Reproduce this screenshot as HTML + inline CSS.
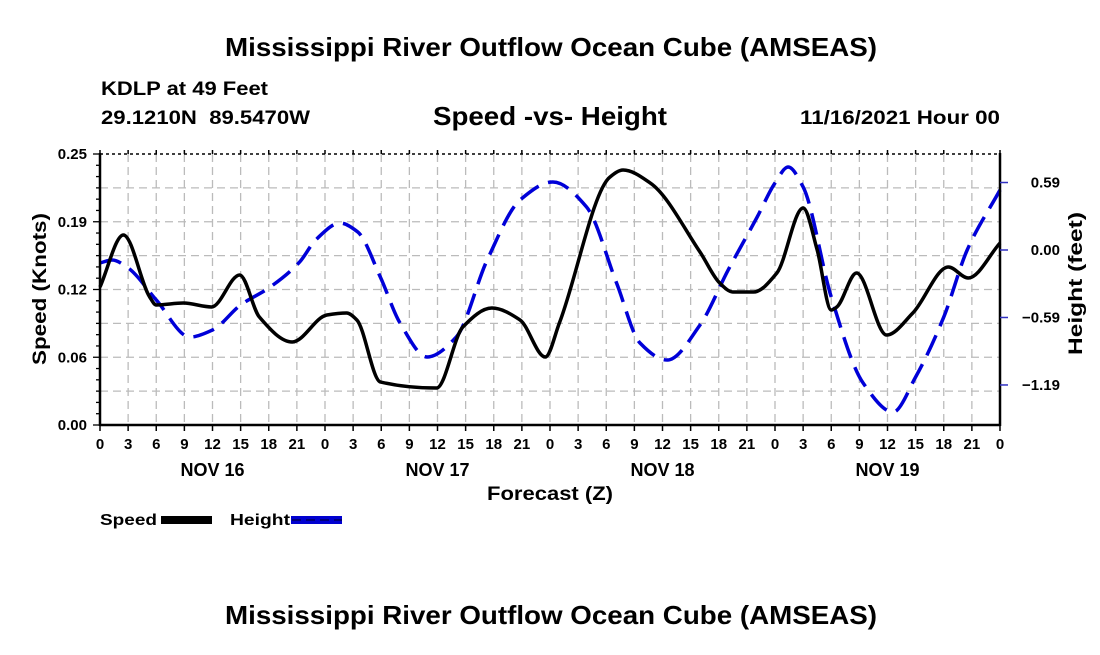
<!DOCTYPE html>
<html><head><meta charset="utf-8"><style>
body{margin:0;background:#fff;}
svg text{font-family:"Liberation Sans",Arial,sans-serif;font-weight:bold;fill:#000;}
</style></head><body>
<svg id="chart" width="1100" height="650" viewBox="0 0 1100 650" xmlns="http://www.w3.org/2000/svg">
<rect width="1100" height="650" fill="#fff"/>
<text x="225" y="56" font-size="26" textLength="652" lengthAdjust="spacingAndGlyphs">Mississippi River Outflow Ocean Cube (AMSEAS)</text>
<text x="101" y="95" font-size="19" textLength="167" lengthAdjust="spacingAndGlyphs">KDLP at 49 Feet</text>
<text x="101" y="124" font-size="19" textLength="209" lengthAdjust="spacingAndGlyphs">29.1210N&#160; 89.5470W</text>
<text x="433" y="125" font-size="26" textLength="234" lengthAdjust="spacingAndGlyphs">Speed -vs- Height</text>
<text x="800" y="124" font-size="19" textLength="200" lengthAdjust="spacingAndGlyphs">11/16/2021 Hour 00</text>
<g id="grid"></g>
<g id="series"></g>
<g id="axes"></g>
<text x="487" y="500" font-size="19" textLength="126" lengthAdjust="spacingAndGlyphs">Forecast (Z)</text>
<text transform="translate(46,365) rotate(-90)" font-size="19" textLength="152" lengthAdjust="spacingAndGlyphs">Speed (Knots)</text>
<text transform="translate(1082,355) rotate(-90)" font-size="19" textLength="143" lengthAdjust="spacingAndGlyphs">Height (feet)</text>
<g>
<text x="100" y="525" font-size="16" textLength="57" lengthAdjust="spacingAndGlyphs">Speed</text>
<rect x="161" y="516" width="51" height="8" fill="#000"/>
<text x="230" y="525" font-size="16" textLength="60" lengthAdjust="spacingAndGlyphs">Height</text>
<rect x="291" y="516" width="51" height="8" fill="#0000d0"/>
<line x1="292" y1="520" x2="342" y2="520" stroke="#000060" stroke-width="1.5" stroke-dasharray="9,5"/>
</g>
<text x="225" y="624" font-size="26" textLength="652" lengthAdjust="spacingAndGlyphs">Mississippi River Outflow Ocean Cube (AMSEAS)</text>
</svg>
<script>
const speedHours=[0,2.5,5.3,6,8.9,11.9,14.9,17,20.5,24.2,26.3,27.4,29.9,35.9,38.7,41.8,44.8,47.5,49,54.4,55.8,58.7,64,66.1,67.5,69.7,72.2,75,76.5,78,78.6,80.7,83.9,86.7,90.5,92.6,96];
const speedValues=[0.1273,0.1753,0.1181,0.1107,0.1125,0.1089,0.1384,0.0996,0.0766,0.1015,0.1033,0.0969,0.0397,0.0341,0.0904,0.1079,0.0969,0.0627,0.0941,0.2288,0.2352,0.2232,0.1596,0.131,0.1227,0.1227,0.1402,0.2002,0.1614,0.1061,0.1089,0.1402,0.083,0.1033,0.1458,0.1356,0.1679];
const heightHours=[0,1.3,3,6,9.6,12,15,18,21.3,23,25.6,27.5,29.9,32,34.9,38,41.3,44.8,48.3,51.9,55.1,57.6,60.5,64,67,70.1,72,73.4,75,78,81.4,84.6,87,90,92.5,96];
const heightValues=[-0.114,-0.088,-0.158,-0.439,-0.765,-0.703,-0.483,-0.334,-0.105,0.088,0.237,0.158,-0.237,-0.641,-0.94,-0.765,-0.088,0.439,0.598,0.378,-0.29,-0.817,-0.967,-0.659,-0.176,0.29,0.589,0.729,0.554,-0.413,-1.169,-1.424,-1.116,-0.589,0,0.527];
const xTickLabels=["0","3","6","9","12","15","18","21","0","3","6","9","12","15","18","21","0","3","6","9","12","15","18","21","0","3","6","9","12","15","18","21","0"];
const dayLabels=["NOV 16","NOV 17","NOV 18","NOV 19"];
const speedTicks=[0,0.0625,0.125,0.1875,0.25];
const speedTickLabels=["0.00","0.06","0.12","0.19","0.25"];
const heightTicks=[0.593,0,-0.593,-1.186];
const heightTickLabels=["0.59","0.00","\u22120.59","\u22121.19"];

const L=100,R=1000,T=154,B=425;
const xS=h=>L+h/96*(R-L);
const yS=v=>B-v/0.25*(B-T);
const yH=h=>250-h*113.8;
const NS="http://www.w3.org/2000/svg";
function mk(tag,attrs,parent){const e=document.createElementNS(NS,tag);for(const k in attrs)e.setAttribute(k,attrs[k]);parent.appendChild(e);return e;}
const grid=document.getElementById('grid'),axes=document.getElementById('axes'),series=document.getElementById('series');
for(let i=1;i<32;i++){const x=xS(i*3);const l=mk('line',{x1:x,y1:T,x2:x,y2:B,stroke:'#bbb','stroke-width':1.3,'stroke-dasharray':'8,5'},grid);

}
for(let i=1;i<8;i++){const y=yS(i*0.03125);const l=mk('line',{x1:L,y1:y,x2:R,y2:y,stroke:'#bbb','stroke-width':1.3,'stroke-dasharray':'8,5'},grid);

}
// monotone cubic (Fritsch-Carlson)
function path(hs,vs,ys){const x=hs.map(xS),y=vs.map(ys),n=x.length;
const d=[],m=new Array(n);for(let i=0;i<n-1;i++)d.push((y[i+1]-y[i])/(x[i+1]-x[i]));
m[0]=d[0];m[n-1]=d[n-2];
for(let i=1;i<n-1;i++){if(d[i-1]*d[i]<=0)m[i]=0;else{const w1=2*(x[i+1]-x[i])+(x[i]-x[i-1]),w2=(x[i+1]-x[i])+2*(x[i]-x[i-1]);m[i]=(w1+w2)/(w1/d[i-1]+w2/d[i]);}}
let s='M'+x[0]+','+y[0];
for(let i=0;i<n-1;i++){const h=(x[i+1]-x[i])/3;s+=' C'+(x[i]+h)+','+(y[i]+m[i]*h)+' '+(x[i+1]-h)+','+(y[i+1]-m[i+1]*h)+' '+x[i+1]+','+y[i+1];}
return s;}
const hp=mk('path',{d:path(heightHours,heightValues,yH),fill:'none',stroke:'#0000d8','stroke-width':3.5,'stroke-dasharray':'22,10'},series);


const sp=mk('path',{d:path(speedHours,speedValues,yS),fill:'none',stroke:'#000','stroke-width':3.5,'stroke-linejoin':'round'},series);


let e=mk('line',{x1:L,y1:T,x2:R,y2:T,stroke:'#000','stroke-width':1.5,'stroke-dasharray':'3,3'},axes);


e=mk('line',{x1:L,y1:T-1,x2:L,y2:B+1,stroke:'#000','stroke-width':2.5},axes);


e=mk('line',{x1:R,y1:T-1,x2:R,y2:B+1,stroke:'#000','stroke-width':2.5},axes);


e=mk('line',{x1:L,y1:B,x2:R,y2:B,stroke:'#000','stroke-width':2.5},axes);


xTickLabels.forEach((lab,i)=>{const x=xS(i*3);
const t=mk('line',{x1:x,y1:B,x2:x,y2:B+6,stroke:'#000','stroke-width':1.5},axes);


const t2=mk('line',{x1:x,y1:T,x2:x,y2:T-4,stroke:'#000','stroke-width':1.5},axes);


const tx=mk('text',{x:x,y:449,'font-size':15,'text-anchor':'middle'},axes);tx.textContent=lab;

});
dayLabels.forEach((lab,i)=>{const tx=mk('text',{x:xS(i*24+12),y:476,'font-size':18,'text-anchor':'middle'},axes);tx.textContent=lab;

});
for(let i=0;i<=24;i++){const y=yS(i*0.25/24);
const t=mk('line',{x1:L,y1:y,x2:L-(i%6==0?7:4),y2:y,stroke:'#000','stroke-width':1.3},axes);

}
speedTicks.forEach((v,i)=>{const tx=mk('text',{x:87,y:yS(v)+5,'font-size':15,'text-anchor':'end'},axes);tx.textContent=speedTickLabels[i];

});
heightTicks.forEach((v,i)=>{const y=yH(v);
const t=mk('line',{x1:R,y1:y,x2:R+8,y2:y,stroke:'#3030c0','stroke-width':1.5},axes);


const tx=mk('text',{x:1060,y:y+5,'font-size':15,'text-anchor':'end'},axes);tx.textContent=heightTickLabels[i];

});
</script>
</body></html>
